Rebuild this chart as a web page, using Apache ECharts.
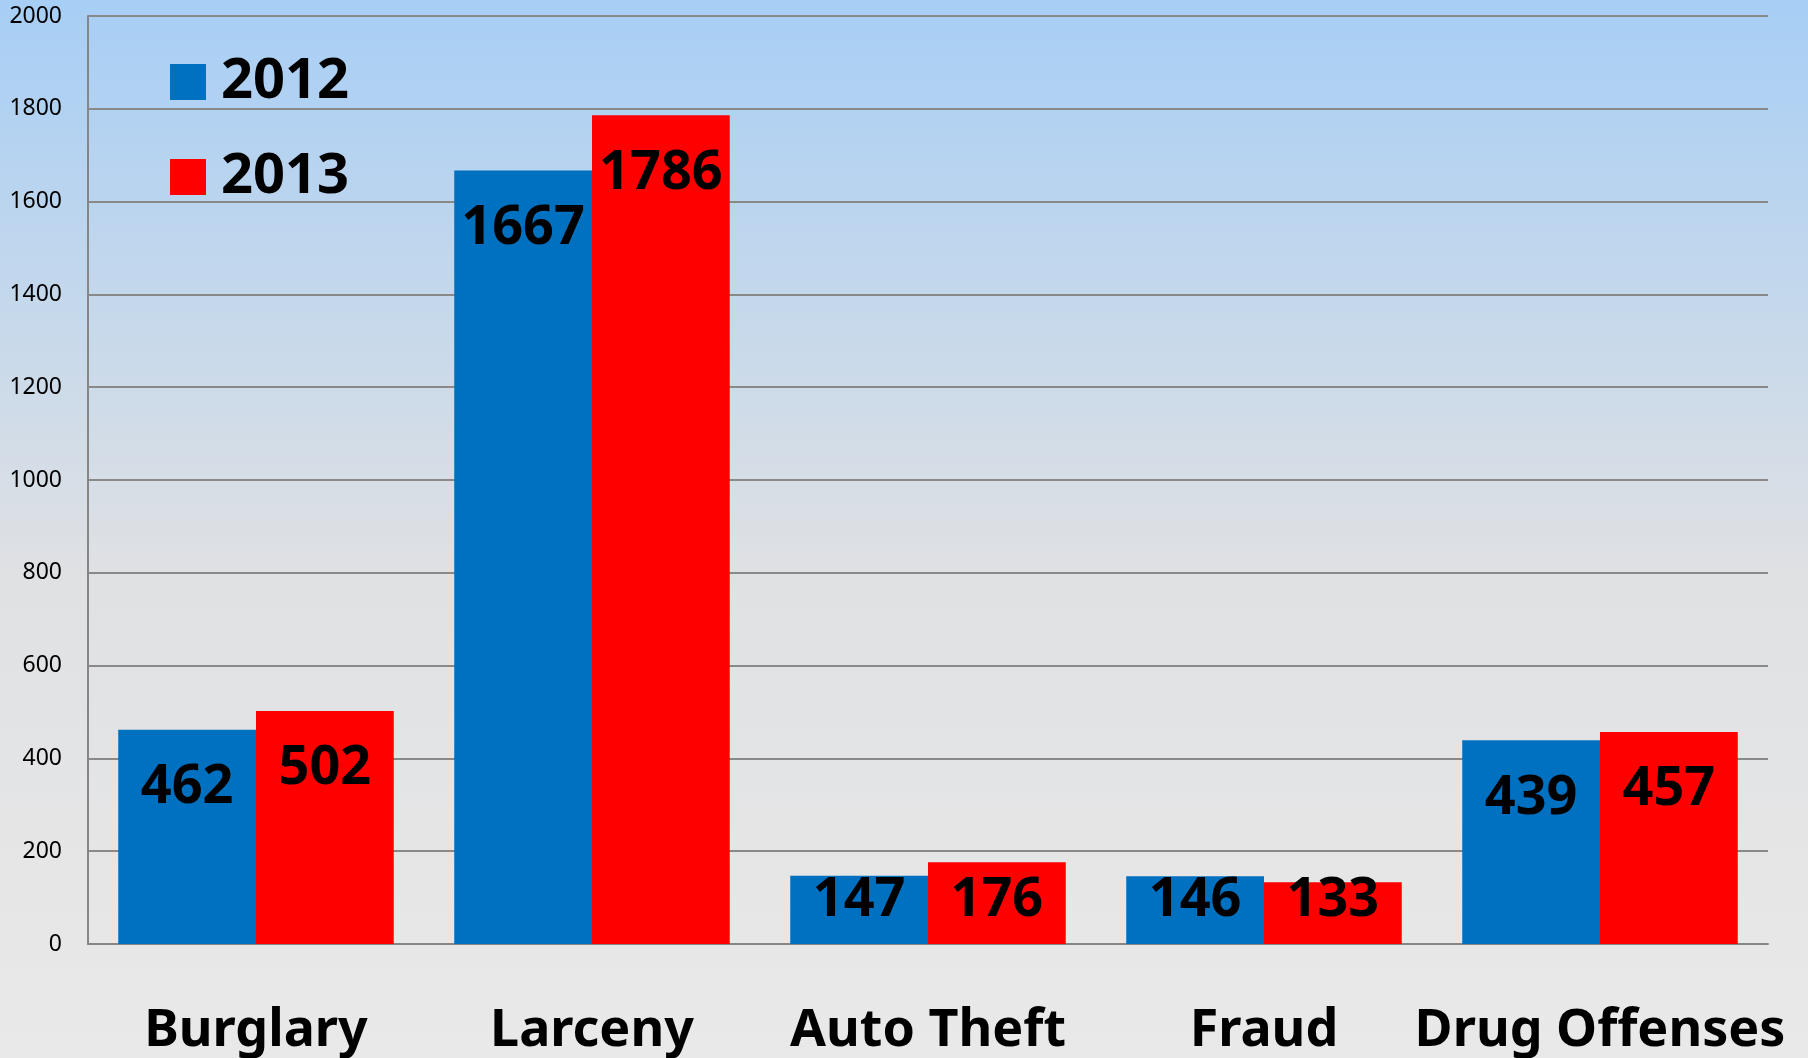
<!DOCTYPE html>
<html>
<head>
<meta charset="utf-8">
<script src="https://cdn.jsdelivr.net/npm/echarts@6/dist/echarts.min.js"></script>
<style>
  html, body { margin: 0; padding: 0; }
  #chart { width: 1808px; height: 1058px; }
</style>
</head>
<body>
<div id="chart"></div>
<script>
const categories = ['Burglary', 'Larceny', 'Auto Theft', 'Fraud', 'Drug Offenses'];
const years = ['2012', '2013'];
const values2012 = [462, 1667, 147, 146, 439];
const values2013 = [502, 1786, 176, 133, 457];
const yTicks = { min: 0, max: 2000, interval: 200 };

const FONT = '"Noto Sans", "Open Sans", sans-serif';
// short bars get their label near the bottom, like Excel does
const SMALL_BAR = 224;

function barData(values) {
  return values.map(function (v) {
    if (v < SMALL_BAR) {
      return { value: v, label: { position: 'insideBottom', distance: 16 } };
    }
    return { value: v };
  });
}

function makeSeries(name, values, color) {
  return {
    name: name,
    type: 'bar',
    barGap: '0%',
    barCategoryGap: '18%',
    itemStyle: { color: color },
    label: {
      show: true,
      position: 'insideTop',
      distance: 31,
      color: '#000',
      fontFamily: FONT,
      fontWeight: 'bold',
      fontSize: 54
    },
    data: barData(values)
  };
}

const chart = echarts.init(document.getElementById('chart'), null, { renderer: 'canvas' });

const option = {
  backgroundColor: {
    type: 'linear', x: 0, y: 0, x2: 0, y2: 1,
    colorStops: [
      { offset: 0, color: '#a7cef5' },
      { offset: 0.55, color: '#e0e1e3' },
      { offset: 1, color: '#e9e9e9' }
    ]
  },
  animation: false,
  grid: { left: 88, right: 40, top: 16, bottom: 114, containLabel: false },
  legend: {
    orient: 'vertical',
    left: 170,
    top: 54,
    padding: 0,
    icon: 'rect',
    itemWidth: 36,
    itemHeight: 36,
    itemGap: 39,
    textStyle: {
      fontFamily: FONT,
      fontWeight: 'bold',
      fontSize: 56,
      color: '#000',
      padding: [0, 0, 0, 10]
    },
    data: years
  },
  xAxis: {
    type: 'category',
    data: categories,
    axisLine: { show: true, lineStyle: { color: '#868686', width: 2 } },
    axisTick: { show: false },
    axisLabel: {
      margin: 61,
      color: '#000',
      fontFamily: FONT,
      fontWeight: 'bold',
      fontSize: 52,
      interval: 0
    }
  },
  yAxis: {
    type: 'value',
    min: yTicks.min,
    max: yTicks.max,
    interval: yTicks.interval,
    axisLine: { show: true, lineStyle: { color: '#868686', width: 2 } },
    axisTick: { show: false },
    splitLine: { lineStyle: { color: '#898989', width: 2 } },
    axisLabel: {
      margin: 26,
      color: '#000',
      fontFamily: FONT,
      fontSize: 23,
      formatter: function (v) { return String(v); }
    }
  },
  series: [
    makeSeries(years[0], values2012, '#0070c0'),
    makeSeries(years[1], values2013, '#ff0000')
  ]
};

chart.setOption(option);
</script>
</body>
</html>
